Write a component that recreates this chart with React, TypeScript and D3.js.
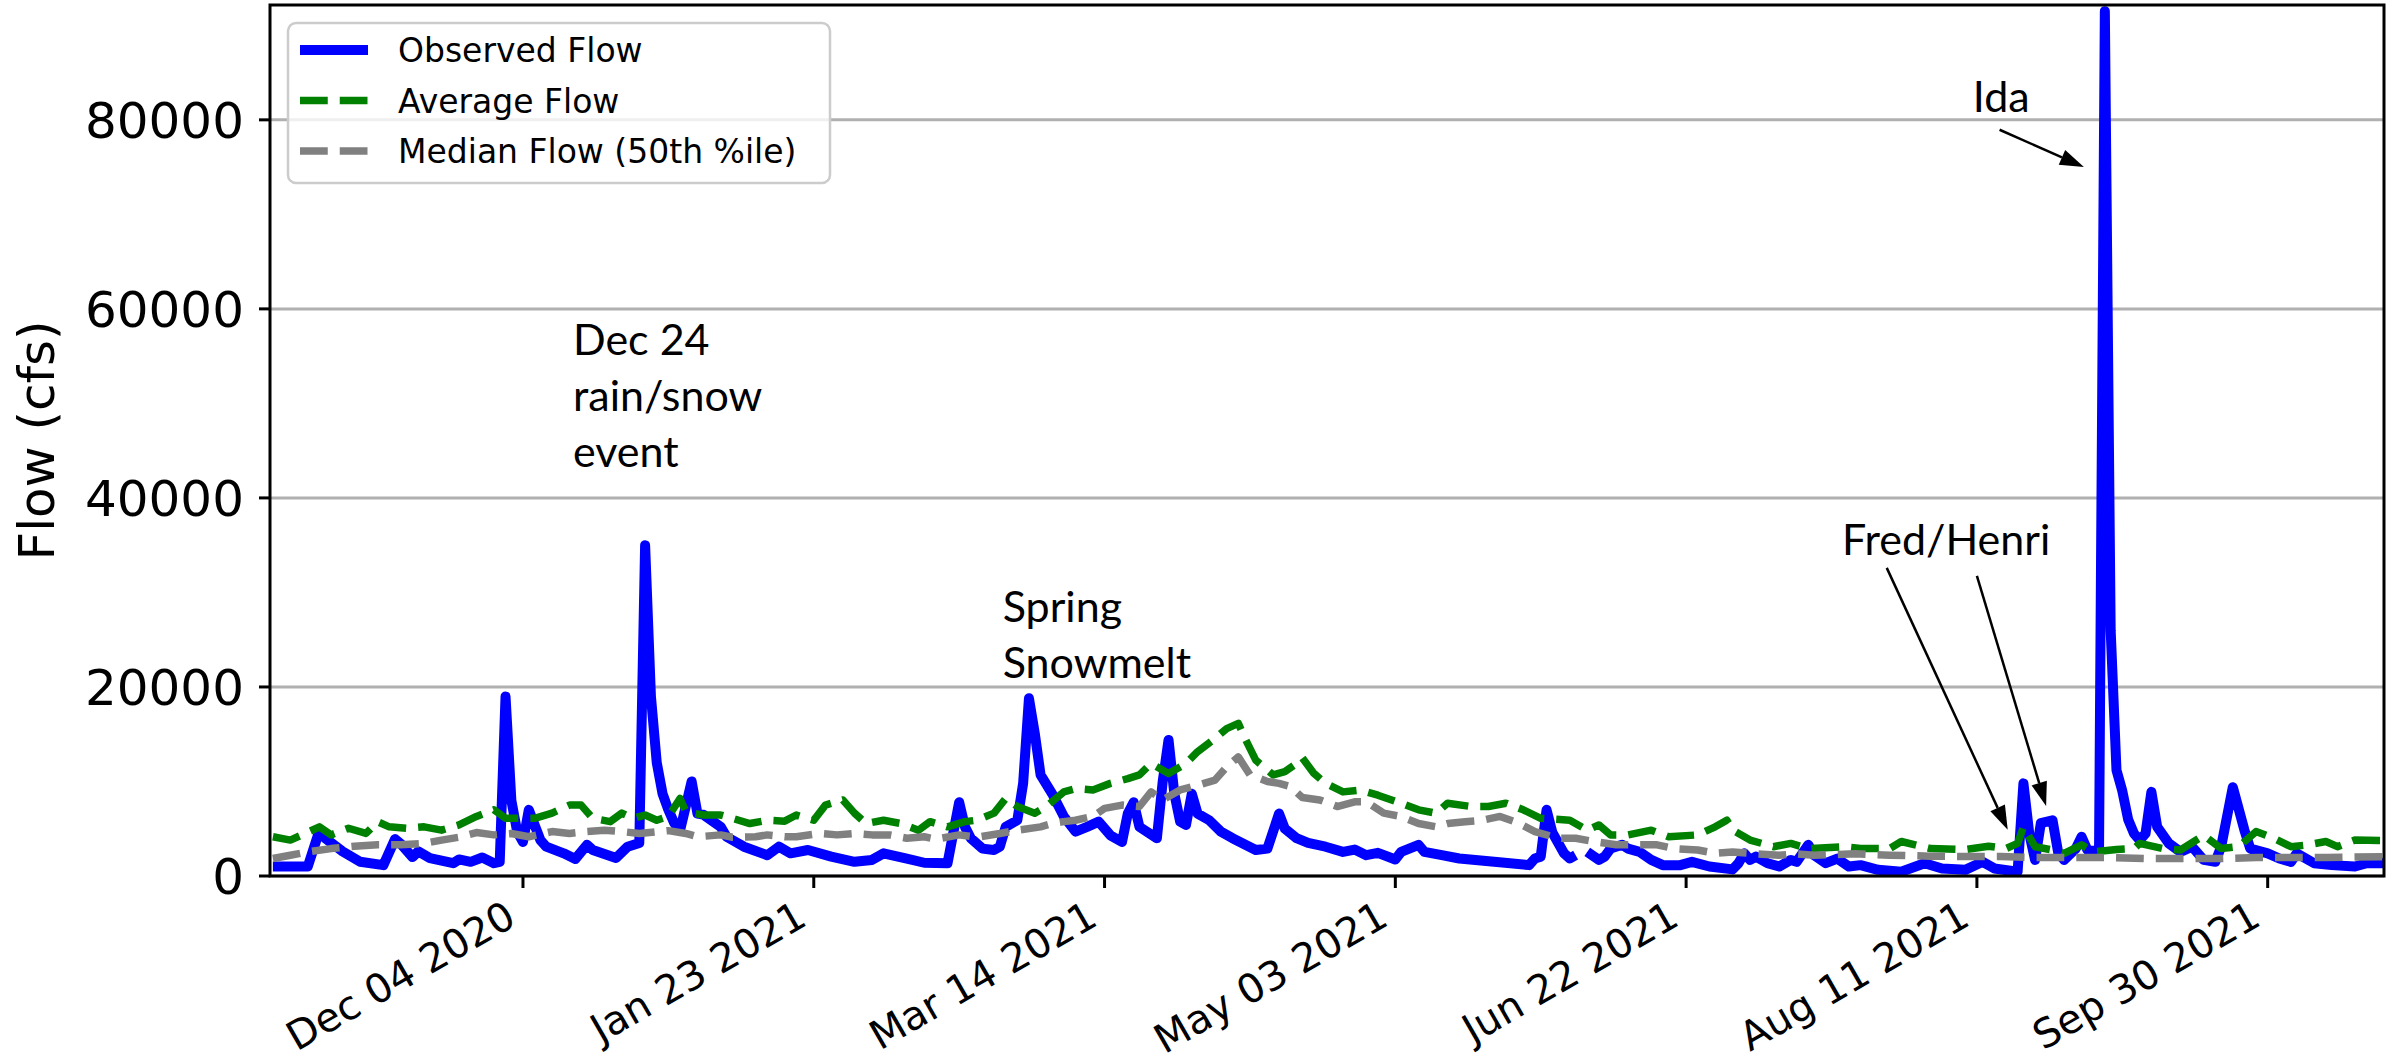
import React from 'react';
import * as d3 from 'd3';

// day offsets are counted from 2020-10-22
const START = Date.UTC(2020, 9, 22);
const DAY = 86400000;

const observedDays = [0, 6, 8, 9, 12, 15, 19, 21, 22, 24, 25, 27, 31, 32, 34, 36, 38, 39, 40, 41, 42, 43, 44, 46, 47, 50, 52, 54, 55, 59, 61, 63, 64, 65, 66, 67, 68, 69, 70, 72, 73, 74, 77, 78, 81, 85, 87, 89, 92, 96, 100, 103, 105, 109, 112, 116, 118, 119, 120, 122, 124, 125, 126, 128, 129, 130, 131, 132, 134, 136, 138, 140, 142, 144, 146, 147, 148, 149, 152, 153, 154, 155, 156, 157, 158, 159, 161, 163, 165, 169, 171, 173, 174, 176, 178, 181, 184, 186, 188, 190, 193, 194, 197, 198, 201, 204, 210, 216, 217, 218, 219, 220, 222, 223, 224, 225, 226, 228, 229, 230, 232, 233, 235, 237, 239, 242, 244, 247, 251, 252, 253, 254, 255, 257, 259, 261, 262, 264, 265, 267, 269, 271, 273, 276, 280, 284, 287, 291, 294, 296, 300, 301, 302, 303, 304, 306, 307, 308, 310, 311, 312, 314, 315, 316, 317, 318, 319, 320, 321, 322, 323, 324, 326, 328, 330, 332, 334, 335, 337, 339, 340, 343, 345, 347, 348, 351, 354, 358, 360, 363];
const observedFlow: (number | null)[] = [1000, 1000, 4800, 4000, 2600, 1500, 1150, 3900, 3400, 2000, 2600, 1900, 1350, 1750, 1500, 1950, 1350, 1500, 19000, 8000, 4700, 3600, 7000, 3800, 3100, 2400, 1800, 3300, 2750, 1900, 3100, 3500, 35000, 19000, 12000, 8700, 7000, 5600, 4800, 10000, 6600, 6500, 5200, 4150, 3100, 2200, 3100, 2400, 2750, 2050, 1500, 1700, 2400, 1850, 1400, 1350, 7800, 5200, 4000, 2900, 2750, 3100, 5200, 5900, 9800, 18800, 15100, 10700, 8700, 6300, 4700, 5200, 5750, 4300, 3600, 6600, 7800, 5200, 4000, 10000, 14400, 8700, 5750, 5400, 8700, 6600, 5900, 4700, 4000, 2750, 2900, 6600, 5000, 4000, 3500, 3100, 2550, 2800, 2200, 2450, 1750, 2550, 3300, 2550, 2200, 1850, 1500, 1150, 1850, 2050, 7000, 4600, 2400, 1850, 2200, null, 2550, 1700, 2050, 2900, 3300, 2900, 2550, 1700, 1150, 1150, 1500, 1000, 700, 1350, 2400, 1700, 2050, 1350, 1000, 1700, 1500, 3300, 2200, 1350, 1850, 1000, 1150, 650, 450, 1350, 800, 650, 1500, 800, 450, 9800, 4500, 1700, 5600, 5900, 2400, 1700, 2900, 4150, 2750, 2600, 91500, 26000, 11200, 9000, 6000, 4500, 3800, 4500, 8900, 5200, 3450, 2550, 3100, 1700, 1500, 3100, 9400, 4850, 2900, 2400, 1850, 1500, 2400, 1350, 1150, 1000, 1350, 1350];

const averageDays = [0, 3, 5, 8, 10, 13, 16, 18, 20, 23, 26, 29, 32, 35, 38, 40, 43, 45, 48, 51, 53, 55, 58, 60, 62, 64, 66, 68, 70, 71, 74, 77, 79, 82, 85, 88, 90, 93, 95, 98, 100, 102, 105, 108, 111, 113, 116, 119, 121, 124, 126, 128, 131, 133, 136, 138, 141, 144, 147, 149, 151, 154, 157, 159, 162, 164, 166, 167, 169, 172, 174, 176, 177, 179, 181, 184, 187, 190, 194, 197, 200, 202, 206, 209, 212, 215, 218, 223, 226, 228, 230, 233, 237, 240, 245, 248, 250, 251, 254, 258, 261, 264, 270, 273, 278, 280, 285, 291, 295, 298, 300, 301, 303, 306, 308, 311, 313, 317, 320, 321, 325, 328, 332, 335, 338, 341, 344, 347, 350, 353, 355, 358, 363];
const averageFlow = [4150, 3800, 4350, 5200, 4350, 5050, 4500, 5750, 5200, 5050, 5200, 4850, 5400, 6300, 7000, 6100, 6100, 6100, 6650, 7500, 7500, 6100, 5750, 6650, 6100, 6450, 5900, 6300, 8200, 6800, 6450, 6450, 6100, 5550, 5900, 5800, 6450, 5900, 7500, 8050, 6650, 5550, 5900, 5550, 4850, 5750, 5200, 5750, 5900, 6650, 8200, 7350, 6650, 7350, 8900, 9250, 9100, 9800, 10300, 10700, 11900, 10850, 11900, 13150, 14550, 15600, 16150, 14750, 12250, 10700, 11050, 11900, 12500, 10850, 9800, 8900, 9100, 8550, 7700, 7000, 6650, 7700, 7350, 7350, 7700, 7000, 6100, 5900, 4850, 5400, 4350, 4350, 4850, 4150, 4350, 5200, 5900, 4850, 3800, 3100, 3450, 2900, 3100, 2900, 2900, 3650, 2900, 2800, 3150, 2900, 3450, 5200, 3100, 2750, 2400, 3300, 2550, 2800, 2900, 3450, 2900, 2750, 4300, 2900, 3100, 4700, 4000, 3100, 3300, 3650, 3100, 3800, 3750];

const medianDays = [0, 3, 6, 10, 14, 18, 22, 26, 29, 32, 35, 38, 41, 44, 48, 51, 54, 57, 60, 63, 68, 71, 73, 77, 79, 83, 85, 88, 90, 94, 97, 100, 103, 106, 109, 112, 114, 118, 121, 125, 128, 132, 134, 136, 138, 141, 143, 146, 149, 151, 153, 156, 159, 162, 164, 166, 168, 171, 173, 175, 177, 180, 183, 186, 188, 191, 194, 197, 200, 202, 205, 208, 211, 214, 217, 221, 224, 227, 231, 234, 238, 241, 245, 248, 251, 255, 259, 262, 265, 272, 278, 285, 291, 297, 303, 310, 316, 322, 328, 335, 341, 347, 353, 363];
const medianFlow = [1850, 2200, 2550, 2900, 3150, 3300, 3300, 3450, 3800, 4100, 4600, 4350, 4500, 4150, 4700, 4500, 4700, 4850, 4700, 4500, 4800, 4500, 4150, 4350, 4100, 4150, 4350, 4150, 4150, 4500, 4350, 4500, 4350, 4350, 4000, 4150, 3900, 4350, 4100, 4500, 4850, 5200, 5550, 5750, 5900, 6300, 7150, 7500, 7350, 8900, 8050, 9100, 9600, 10150, 11550, 12600, 10700, 10000, 9800, 9450, 8300, 8050, 7350, 7850, 7850, 6650, 6300, 5550, 5200, 5550, 5750, 5900, 6300, 5650, 4700, 4000, 4000, 3650, 3300, 3300, 3300, 2900, 2750, 2400, 2550, 2350, 2200, 2350, 2200, 2350, 2200, 2100, 2050, 2050, 1950, 1950, 1950, 1850, 1850, 1850, 1950, 1950, 1950, 2050];

const yTicks = [0, 20000, 40000, 60000, 80000];
const xTickDays = [43, 93, 143, 193, 243, 293, 343];

const seriesNames = ['Observed Flow', 'Average Flow', 'Median Flow (50th %ile)'];

const notes = [
  { lines: ['Dec 24', 'rain/snow', 'event'], day: 51.6, flow: 55100 },
  { lines: ['Spring', 'Snowmelt'], day: 125.5, flow: 26900 },
  { lines: ['Fred/Henri'], day: 269.8, flow: 33950 },
  { lines: ['Ida'], day: 292.3, flow: 80850 },
];
const arrows = [
  { fromDay: 277.5, fromFlow: 32600, toDay: 298.3, toFlow: 4900 },
  { fromDay: 293.0, fromFlow: 31750, toDay: 304.9, toFlow: 7400 },
  { fromDay: 296.9, fromFlow: 78950, toDay: 311.4, toFlow: 75000 },
];

const W = 2405;
const H = 1061;
const left = 270, right = 2384, top = 5, bottom = 876;

const toDate = (d: number) => new Date(START + d * DAY);
const fmt = d3.utcFormat('%b %d %Y');

function Arrow({ x1, y1, x2, y2 }: { x1: number; y1: number; x2: number; y2: number }) {
  const a = Math.atan2(y2 - y1, x2 - x1);
  const len = 24, hw = 8;
  const bx = x2 - len * Math.cos(a), by = y2 - len * Math.sin(a);
  const px = -Math.sin(a) * hw, py = Math.cos(a) * hw;
  return (
    <g>
      <line x1={x1} y1={y1} x2={bx} y2={by} stroke="#000" strokeWidth={2.5} />
      <polygon points={`${x2},${y2} ${bx + px},${by + py} ${bx - px},${by - py}`} fill="#000" />
    </g>
  );
}

export default function App() {
  const x = d3.scaleUtc()
    .domain([new Date(START - 0.5 * DAY), new Date(START + 363 * DAY)])
    .range([left, right]);
  const y = d3.scaleLinear().domain([0, 92150]).range([bottom, top]);

  const line = d3.line<[number, number | null]>()
    .defined(d => d[1] != null)
    .x(d => x(toDate(d[0])))
    .y(d => y(d[1] as number));

  const obs = line(observedDays.map((d, i) => [d, observedFlow[i]] as [number, number | null]));
  const avg = line(averageDays.map((d, i) => [d, averageFlow[i]] as [number, number | null]));
  const med = line(medianDays.map((d, i) => [d, medianFlow[i]] as [number, number | null]));

  const dash = '27.75,12';
  const font = 'DejaVu Sans';

  return (
    <svg width={W} height={H} style={{ position: 'absolute', left: 0, top: 0, background: '#fff' }}>
      <defs>
        <clipPath id="plotclip">
          <rect x={left} y={top} width={right - left} height={bottom - top} />
        </clipPath>
      </defs>
      <rect width={W} height={H} fill="#fff" />

      {/* grid */}
      {yTicks.map(t => (
        <line key={'g' + t} x1={left} x2={right} y1={y(t)} y2={y(t)} stroke="#b0b0b0" strokeWidth={3} />
      ))}

      <g clipPath="url(#plotclip)" fill="none" strokeLinejoin="round">
        <path d={obs || ''} stroke="#0000ff" strokeWidth={10} />
        <path d={avg || ''} stroke="#008000" strokeWidth={7.5} strokeDasharray={dash} />
        <path d={med || ''} stroke="#808080" strokeWidth={7.5} strokeDasharray={dash} />
      </g>

      {/* axes frame */}
      <rect x={left} y={top} width={right - left} height={bottom - top} fill="none" stroke="#000" strokeWidth={3} />

      {/* y axis */}
      {yTicks.map(t => (
        <g key={'y' + t}>
          <line x1={left - 11} x2={left} y1={y(t)} y2={y(t)} stroke="#000" strokeWidth={3} />
          <text x={left - 26} y={y(t)} dy="0.365em" textAnchor="end" fontFamily={font} fontSize={50}>{t}</text>
        </g>
      ))}
      <text transform={`translate(54,${(top + bottom) / 2}) rotate(-90)`} textAnchor="middle" fontFamily={font} fontSize={50}>Flow (cfs)</text>

      {/* x axis */}
      {xTickDays.map(d => {
        const px = x(toDate(d));
        return (
          <g key={'x' + d}>
            <line x1={px} x2={px} y1={bottom} y2={bottom + 12} stroke="#000" strokeWidth={3} />
            <text transform={`translate(${px - 5},924) rotate(-30)`} textAnchor="end" fontFamily={font} fontSize={40}>{fmt(toDate(d))}</text>
          </g>
        );
      })}

      {/* annotations */}
      {notes.map((n, i) => (
        <text key={'n' + i} x={x(toDate(n.day))} y={y(n.flow)} fontFamily="Lato" fontSize={43} fill="#000">
          {n.lines.map((l, j) => (
            <tspan key={j} x={x(toDate(n.day))} dy={j === 0 ? 0 : 56}>{l}</tspan>
          ))}
        </text>
      ))}
      {arrows.map((a, i) => (
        <Arrow key={'a' + i}
          x1={x(toDate(a.fromDay))} y1={y(a.fromFlow)}
          x2={x(toDate(a.toDay))} y2={y(a.toFlow)} />
      ))}

      {/* legend */}
      <g>
        <rect x={288} y={23} width={542} height={160} rx={8} fill="#fff" fillOpacity={0.8} stroke="#cccccc" strokeWidth={2.5} />
        {seriesNames.map((name, i) => {
          const ly = 50 + i * 50.5;
          const colors = ['#0000ff', '#008000', '#808080'];
          return (
            <g key={name}>
              <line x1={300} x2={368} y1={ly} y2={ly} stroke={colors[i]} strokeWidth={i === 0 ? 10 : 7.5}
                strokeDasharray={i === 0 ? undefined : dash} />
              <text x={398} y={ly} dy="0.365em" fontFamily={font} fontSize={33}>{name}</text>
            </g>
          );
        })}
      </g>
    </svg>
  );
}
